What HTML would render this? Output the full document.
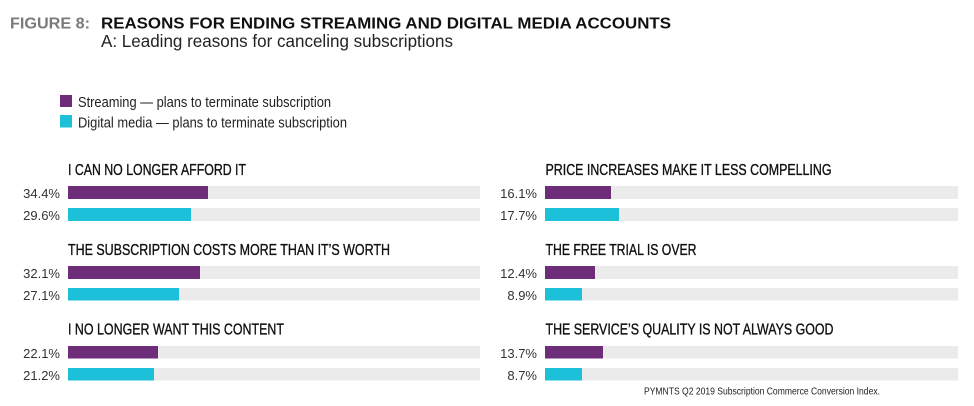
<!DOCTYPE html>
<html>
<head>
<meta charset="utf-8">
<style>
html,body{margin:0;padding:0;background:#fff;}
svg{display:block;}
text{font-family:"Liberation Sans",Arial,sans-serif;}
.cat{font-size:15.5px;fill:#111;stroke:#111;stroke-width:0.35px;}
</style>
</head>
<body>
<svg width="974" height="406" viewBox="0 0 974 406" xmlns="http://www.w3.org/2000/svg">
  <rect width="974" height="406" fill="#fff"/>
  <!-- Header -->
  <text x="10" y="28.3" font-size="15.5" font-weight="bold" fill="#7a7a7a" textLength="80" lengthAdjust="spacingAndGlyphs">FIGURE 8:</text>
  <text x="101" y="28.3" font-size="15.5" font-weight="bold" fill="#111" textLength="570" lengthAdjust="spacingAndGlyphs">REASONS FOR ENDING STREAMING AND DIGITAL MEDIA ACCOUNTS</text>
  <text x="101" y="47" font-size="17.5" fill="#222" textLength="352" lengthAdjust="spacingAndGlyphs">A: Leading reasons for canceling subscriptions</text>

  <!-- Legend -->
  <rect x="60" y="95" width="12" height="12" fill="#6e2d78"/>
  <text x="78" y="107" font-size="15" fill="#222" textLength="253" lengthAdjust="spacingAndGlyphs">Streaming — plans to terminate subscription</text>
  <rect x="60" y="115" width="12" height="12.5" fill="#1cc0d9"/>
  <text x="78" y="127.3" font-size="15" fill="#222" textLength="269" lengthAdjust="spacingAndGlyphs">Digital media — plans to terminate subscription</text>

  <!-- Left column -->
  <g>
    <text class="cat" x="68" y="175" textLength="178" lengthAdjust="spacingAndGlyphs">I CAN NO LONGER AFFORD IT</text>
    <rect x="68" y="186" width="412" height="13" fill="#ebebeb"/>
    <rect x="68" y="186" width="140" height="13" fill="#6e2d78"/>
    <rect x="68" y="208" width="412" height="13" fill="#ebebeb"/>
    <rect x="68" y="208" width="123" height="13" fill="#1cc0d9"/>
    <text x="60" y="198" font-size="13" fill="#333" text-anchor="end">34.4%</text>
    <text x="60" y="220" font-size="13" fill="#333" text-anchor="end">29.6%</text>

    <text class="cat" x="68" y="255" textLength="322" lengthAdjust="spacingAndGlyphs">THE SUBSCRIPTION COSTS MORE THAN IT’S WORTH</text>
    <rect x="68" y="266" width="412" height="13" fill="#ebebeb"/>
    <rect x="68" y="266" width="132" height="13" fill="#6e2d78"/>
    <rect x="68" y="288" width="412" height="12.5" fill="#ebebeb"/>
    <rect x="68" y="288" width="111" height="12.5" fill="#1cc0d9"/>
    <text x="60" y="278" font-size="13" fill="#333" text-anchor="end">32.1%</text>
    <text x="60" y="300" font-size="13" fill="#333" text-anchor="end">27.1%</text>

    <text class="cat" x="68" y="334.5" textLength="216" lengthAdjust="spacingAndGlyphs">I NO LONGER WANT THIS CONTENT</text>
    <rect x="68" y="346" width="412" height="12.5" fill="#ebebeb"/>
    <rect x="68" y="346" width="90" height="12.5" fill="#6e2d78"/>
    <rect x="68" y="368" width="412" height="12.5" fill="#ebebeb"/>
    <rect x="68" y="368" width="86" height="12.5" fill="#1cc0d9"/>
    <text x="60" y="358" font-size="13" fill="#333" text-anchor="end">22.1%</text>
    <text x="60" y="380" font-size="13" fill="#333" text-anchor="end">21.2%</text>
  </g>

  <!-- Right column -->
  <g>
    <text class="cat" x="545.5" y="175" textLength="286" lengthAdjust="spacingAndGlyphs">PRICE INCREASES MAKE IT LESS COMPELLING</text>
    <rect x="545" y="186" width="413" height="13" fill="#ebebeb"/>
    <rect x="545" y="186" width="66" height="13" fill="#6e2d78"/>
    <rect x="545" y="208" width="413" height="13" fill="#ebebeb"/>
    <rect x="545" y="208" width="74" height="13" fill="#1cc0d9"/>
    <text x="537" y="198" font-size="13" fill="#333" text-anchor="end">16.1%</text>
    <text x="537" y="220" font-size="13" fill="#333" text-anchor="end">17.7%</text>

    <text class="cat" x="545.5" y="255" textLength="151" lengthAdjust="spacingAndGlyphs">THE FREE TRIAL IS OVER</text>
    <rect x="545" y="266" width="413" height="13" fill="#ebebeb"/>
    <rect x="545" y="266" width="50" height="13" fill="#6e2d78"/>
    <rect x="545" y="288" width="413" height="12.5" fill="#ebebeb"/>
    <rect x="545" y="288" width="37" height="12.5" fill="#1cc0d9"/>
    <text x="537" y="278" font-size="13" fill="#333" text-anchor="end">12.4%</text>
    <text x="537" y="300" font-size="13" fill="#333" text-anchor="end">8.9%</text>

    <text class="cat" x="545.5" y="334.5" textLength="288" lengthAdjust="spacingAndGlyphs">THE SERVICE’S QUALITY IS NOT ALWAYS GOOD</text>
    <rect x="545" y="346" width="413" height="12.5" fill="#ebebeb"/>
    <rect x="545" y="346" width="58" height="12.5" fill="#6e2d78"/>
    <rect x="545" y="368" width="413" height="12.5" fill="#ebebeb"/>
    <rect x="545" y="368" width="37" height="12.5" fill="#1cc0d9"/>
    <text x="537" y="358" font-size="13" fill="#333" text-anchor="end">13.7%</text>
    <text x="537" y="380" font-size="13" fill="#333" text-anchor="end">8.7%</text>
  </g>

  <!-- Source -->
  <text x="644" y="394.5" font-size="10" fill="#222" textLength="236" lengthAdjust="spacingAndGlyphs">PYMNTS Q2 2019 Subscription Commerce Conversion Index.</text>
</svg>
</body>
</html>
